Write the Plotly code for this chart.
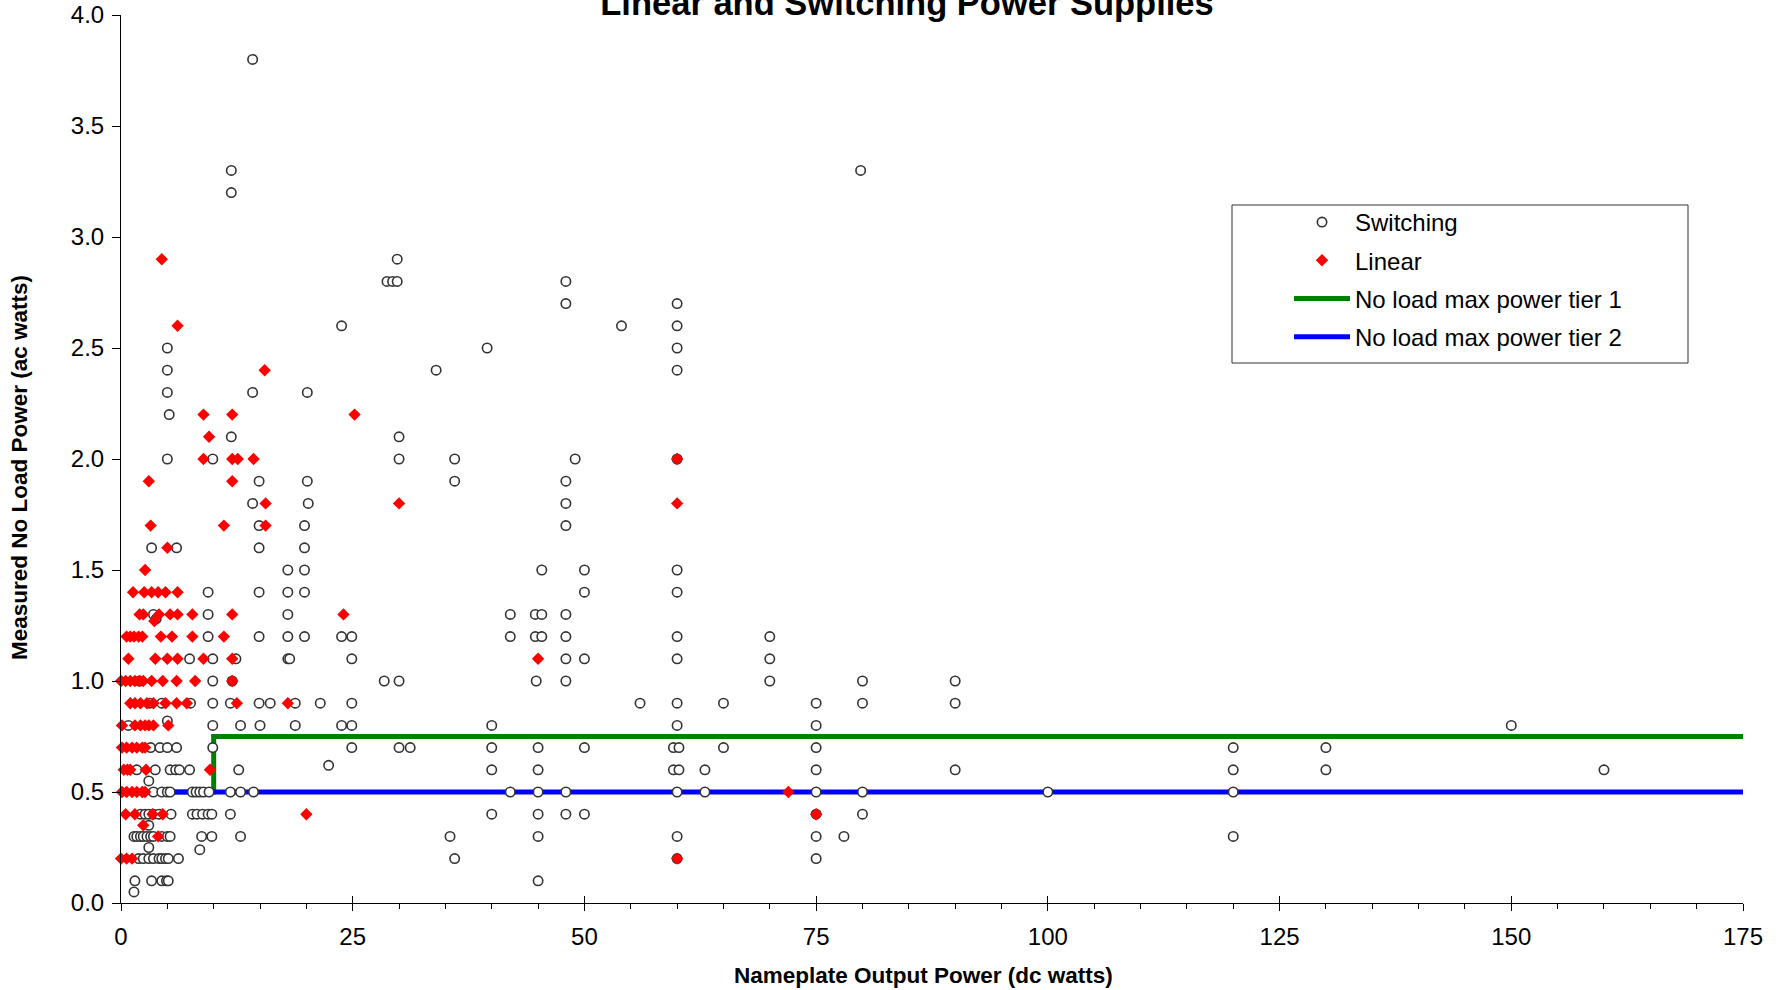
import plotly.graph_objects as go

# ---------------- data ----------------
switch_x = [
    14.2, 11.9, 11.9, 79.8,
    28.7, 29.3, 29.8, 29.8, 48, 48, 60,
    23.8, 54, 60,
    5, 39.5, 60,
    5, 34, 60,
    5, 14.2, 20.1,
    5.2,
    11.9, 30,
    5, 9.9, 30, 36, 49, 60,
    14.9, 20.1, 36, 48,
    14.2, 20.2, 48,
    14.9, 19.8, 48,
    3.3, 6.0, 14.9, 19.8,
    18, 19.8, 45.4, 50, 60,
    9.4, 14.9, 18, 19.8, 50, 60,
    3.5, 3.8, 9.4, 18, 42, 44.7, 45.4, 48,
    9.4, 14.9, 18, 19.8, 23.8, 24.9, 42, 44.7, 45.4, 48, 60, 70,
    7.4, 9.9, 12.4, 18, 18.2, 24.9, 48, 50, 60, 70,
    2.0, 9.9, 12, 28.4, 30, 44.8, 48, 70, 80, 90,
    3.1, 4.4, 7.5, 9.9, 11.8, 14.9, 16.1, 18.8, 21.5, 24.9, 56, 60, 65, 75, 80, 90,
    0.8, 5.0, 9.9, 12.9, 15, 18.8, 23.8, 24.9, 40, 60, 75, 150,
    3.2, 4.2, 5.0, 6.0, 9.9, 24.9, 30, 31.2, 40, 45, 50, 59.6, 60.2, 65, 75, 120, 130,
    22.4,
    1.7, 3.7, 5.3, 5.9, 6.3, 7.4, 12.7, 40, 45, 59.6, 60.2, 63, 75, 90, 120, 130, 160,
    3.0,
    3.5, 4.4, 5.0, 5.3, 7.7, 8.1, 8.5, 8.9, 9.5, 11.8, 12.9, 14.3, 42, 45, 48, 60, 63, 75, 80, 100, 120,
    2.1, 2.6, 3.0, 3.5, 4.1, 5.4, 7.7, 8.2, 8.8, 9.4, 9.8, 11.8, 40, 45, 48, 50, 75, 80,
    3.0,
    1.4, 1.7, 2.1, 2.4, 2.8, 3.2, 3.5, 4.4, 5.0, 5.3, 8.7, 9.8, 12.9, 35.5, 45, 60, 75, 78, 120,
    3.0, 8.5,
    1.9, 2.4, 3.0, 3.5, 4.1, 4.4, 4.8, 5.1, 6.2, 36, 60, 75,
    1.5, 3.3, 4.4, 4.9, 5.1, 45,
    1.4,
]
switch_y = [
    3.8, 3.3, 3.2, 3.3,
    2.8, 2.8, 2.8, 2.9, 2.8, 2.7, 2.7,
    2.6, 2.6, 2.6,
    2.5, 2.5, 2.5,
    2.4, 2.4, 2.4,
    2.3, 2.3, 2.3,
    2.2,
    2.1, 2.1,
    2.0, 2.0, 2.0, 2.0, 2.0, 2.0,
    1.9, 1.9, 1.9, 1.9,
    1.8, 1.8, 1.8,
    1.7, 1.7, 1.7,
    1.6, 1.6, 1.6, 1.6,
    1.5, 1.5, 1.5, 1.5, 1.5,
    1.4, 1.4, 1.4, 1.4, 1.4, 1.4,
    1.3, 1.28, 1.3, 1.3, 1.3, 1.3, 1.3, 1.3,
    1.2, 1.2, 1.2, 1.2, 1.2, 1.2, 1.2, 1.2, 1.2, 1.2, 1.2, 1.2,
    1.1, 1.1, 1.1, 1.1, 1.1, 1.1, 1.1, 1.1, 1.1, 1.1,
    1.0, 1.0, 1.0, 1.0, 1.0, 1.0, 1.0, 1.0, 1.0, 1.0,
    0.9, 0.9, 0.9, 0.9, 0.9, 0.9, 0.9, 0.9, 0.9, 0.9, 0.9, 0.9, 0.9, 0.9, 0.9, 0.9,
    0.8, 0.82, 0.8, 0.8, 0.8, 0.8, 0.8, 0.8, 0.8, 0.8, 0.8, 0.8,
    0.7, 0.7, 0.7, 0.7, 0.7, 0.7, 0.7, 0.7, 0.7, 0.7, 0.7, 0.7, 0.7, 0.7, 0.7, 0.7, 0.7,
    0.62,
    0.6, 0.6, 0.6, 0.6, 0.6, 0.6, 0.6, 0.6, 0.6, 0.6, 0.6, 0.6, 0.6, 0.6, 0.6, 0.6, 0.6,
    0.55,
    0.5, 0.5, 0.5, 0.5, 0.5, 0.5, 0.5, 0.5, 0.5, 0.5, 0.5, 0.5, 0.5, 0.5, 0.5, 0.5, 0.5, 0.5, 0.5, 0.5, 0.5,
    0.4, 0.4, 0.4, 0.4, 0.4, 0.4, 0.4, 0.4, 0.4, 0.4, 0.4, 0.4, 0.4, 0.4, 0.4, 0.4, 0.4, 0.4,
    0.35,
    0.3, 0.3, 0.3, 0.3, 0.3, 0.3, 0.3, 0.3, 0.3, 0.3, 0.3, 0.3, 0.3, 0.3, 0.3, 0.3, 0.3, 0.3, 0.3,
    0.25, 0.24,
    0.2, 0.2, 0.2, 0.2, 0.2, 0.2, 0.2, 0.2, 0.2, 0.2, 0.2, 0.2,
    0.1, 0.1, 0.1, 0.1, 0.1, 0.1,
    0.05,
]

linear_x = [
    4.4, 6.1, 15.5, 8.9, 12, 25.2, 9.5,
    8.9, 12, 12.6, 14.3, 60,
    3.0, 12,
    15.6, 30, 60,
    3.2, 11.1, 15.6,
    5.0,
    2.6,
    1.3, 2.5, 3.3, 4.0, 4.8, 6.1,
    2.0, 2.4, 3.6, 4.1, 5.3, 6.1, 7.7, 12, 24,
    0.6, 1.0, 1.4, 1.9, 2.3, 4.3, 5.5, 7.7, 11.1,
    0.8, 3.7, 5.0, 6.1, 8.9, 12, 45,
    0, 0.5, 1.0, 1.5, 2.0, 2.4, 3.3, 4.5, 6.0, 8.0, 12,
    1.0, 1.5, 2.1, 2.8, 3.5, 4.8, 6.0, 7.1, 12.5, 18,
    0.1, 1.5, 2.1, 2.6, 3.0, 3.5, 5.1,
    0.1, 0.6, 1.2, 1.7, 2.3, 2.6,
    0.3, 0.7, 1.0, 2.7, 9.6,
    0.1, 0.6, 1.2, 1.7, 2.3, 2.6, 72,
    0.5, 1.5, 3.4, 4.5, 20, 75,
    2.4, 4.0,
    0, 0.6, 1.2, 60,
]
linear_y = [
    2.9, 2.6, 2.4, 2.2, 2.2, 2.2, 2.1,
    2.0, 2.0, 2.0, 2.0, 2.0,
    1.9, 1.9,
    1.8, 1.8, 1.8,
    1.7, 1.7, 1.7,
    1.6,
    1.5,
    1.4, 1.4, 1.4, 1.4, 1.4, 1.4,
    1.3, 1.3, 1.27, 1.3, 1.3, 1.3, 1.3, 1.3, 1.3,
    1.2, 1.2, 1.2, 1.2, 1.2, 1.2, 1.2, 1.2, 1.2,
    1.1, 1.1, 1.1, 1.1, 1.1, 1.1, 1.1,
    1.0, 1.0, 1.0, 1.0, 1.0, 1.0, 1.0, 1.0, 1.0, 1.0, 1.0,
    0.9, 0.9, 0.9, 0.9, 0.9, 0.9, 0.9, 0.9, 0.9, 0.9,
    0.8, 0.8, 0.8, 0.8, 0.8, 0.8, 0.8,
    0.7, 0.7, 0.7, 0.7, 0.7, 0.7,
    0.6, 0.6, 0.6, 0.6, 0.6,
    0.5, 0.5, 0.5, 0.5, 0.5, 0.5, 0.5,
    0.4, 0.4, 0.4, 0.4, 0.4, 0.4,
    0.35, 0.3,
    0.2, 0.2, 0.2, 0.2,
]

tier1_x = [0, 10, 10, 175]
tier1_y = [0.5, 0.5, 0.75, 0.75]
tier2_x = [0, 175]
tier2_y = [0.5, 0.5]

x_ticks = [0, 25, 50, 75, 100, 125, 150, 175]
y_ticks = [0.0, 0.5, 1.0, 1.5, 2.0, 2.5, 3.0, 3.5, 4.0]

FONT = "Liberation Sans, Arial, sans-serif"

fig = go.Figure()

fig.add_trace(go.Scatter(
    x=tier1_x, y=tier1_y, mode="lines", name="No load max power tier 1",
    line=dict(color="#008000", width=5), legendrank=3, legendgroup="t1",
))
fig.add_trace(go.Scatter(
    x=tier2_x, y=tier2_y, mode="lines", name="No load max power tier 2",
    line=dict(color="#0000FF", width=5), legendrank=4, legendgroup="t2",
))
fig.add_trace(go.Scatter(
    x=switch_x, y=switch_y, mode="markers", name="Switching",
    marker=dict(symbol="circle", size=9.4, color="white",
                line=dict(color="#333333", width=1.6)),
    cliponaxis=False, legendrank=1, legendgroup="sw",
))
fig.add_trace(go.Scatter(
    x=linear_x, y=linear_y, mode="markers", name="Linear",
    marker=dict(symbol="diamond", size=9.5, color="#FF0000",
                line=dict(width=0)),
    cliponaxis=False, legendrank=2, legendgroup="li",
))
# helper trace for the overlaid axis that draws the upper half of major ticks
fig.add_trace(go.Scatter(x=[], y=[], xaxis="x2", showlegend=False, hoverinfo="skip"))

L, R, T, B = 121, 39, 15, 87
W, H = 1782, 990
pw, ph = W - L - R, H - T - B

def px_x(p):
    return (p - L) / pw

def px_y(p):
    return (H - B - p) / ph

fig.update_layout(
    width=W, height=H,
    margin=dict(l=L, r=R, t=T, b=B, autoexpand=False),
    paper_bgcolor="white", plot_bgcolor="white",
    font=dict(family=FONT, size=24, color="black"),
    showlegend=True,
    title=dict(text="<b>Linear and Switching Power Supplies</b>",
               font=dict(family=FONT, size=34.5, color="black"),
               xref="container", yref="container",
               x=907 / W, y=1 - 3 / H, xanchor="center", yanchor="middle"),
    legend=dict(
        x=px_x(1289), y=px_y(200), xanchor="left", yanchor="top",
        bgcolor="rgba(0,0,0,0)", borderwidth=0,
        font=dict(family=FONT, size=24, color="black"),
        itemwidth=56, tracegroupgap=4, traceorder="grouped",
    ),
    xaxis=dict(
        range=[0, 175], tickvals=x_ticks, ticks="outside", ticklen=7,
        tickwidth=1, tickcolor="black", showline=True, linecolor="black",
        linewidth=1, showgrid=False, zeroline=False,
        tickfont=dict(family=FONT, size=24), ticklabelstandoff=5,
        minor=dict(dtick=5, tick0=0, ticks="outside", ticklen=5,
                   tickwidth=1, tickcolor="black", showgrid=False),
    ),
    xaxis2=dict(
        range=[0, 175], overlaying="x", anchor="y", side="bottom",
        tickvals=x_ticks, ticks="inside", ticklen=7, tickwidth=1,
        tickcolor="black", showticklabels=False, showline=False,
        showgrid=False, zeroline=False,
    ),
    yaxis=dict(
        range=[0, 4], tickvals=y_ticks, tickformat=".1f", ticks="outside",
        ticklen=8, tickwidth=1, tickcolor="black", showline=True,
        linecolor="black", linewidth=1, showgrid=False, zeroline=False,
        tickfont=dict(family=FONT, size=24), ticklabelstandoff=3,
    ),
    shapes=[dict(
        type="rect", xref="paper", yref="paper",
        x0=px_x(1232), x1=px_x(1688), y0=px_y(363), y1=px_y(205),
        line=dict(color="#333333", width=1), fillcolor="white", layer="above",
    )],
    annotations=[
        dict(text="<b>Nameplate Output Power (dc watts)</b>",
             xref="paper", yref="paper", x=px_x(923), y=px_y(975),
             xanchor="center", yanchor="middle", showarrow=False,
             font=dict(family=FONT, size=22.5, color="black")),
        dict(text="<b>Measured No Load Power (ac watts)</b>",
             xref="paper", yref="paper", x=px_x(20), y=px_y(468),
             xanchor="center", yanchor="middle", showarrow=False,
             textangle=-90,
             font=dict(family=FONT, size=22.5, color="black")),
    ],
)

fig.write_html("out.html", config={"displayModeBar": False},
               post_script="document.body.style.margin='0';")
